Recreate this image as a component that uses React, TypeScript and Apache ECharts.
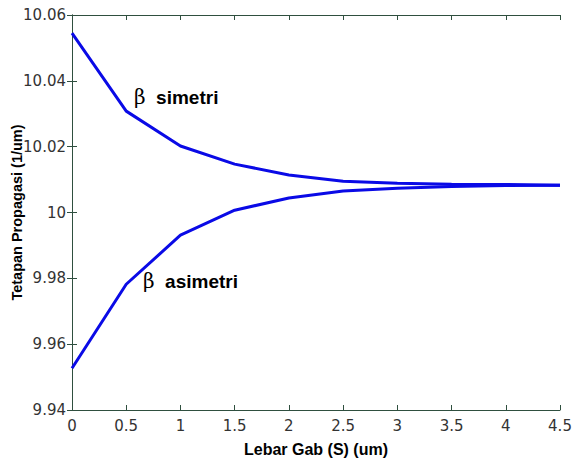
import React, { useEffect, useRef } from "react";
import * as echarts from "echarts";

const gapWidths = [0, 0.5, 1, 1.5, 2, 2.5, 3, 3.5, 4, 4.5];
const betaSimetri = [10.0545, 10.0308, 10.0202, 10.0147, 10.0114, 10.0095, 10.0089, 10.0086, 10.0085, 10.0083];
const betaAsimetri = [9.9527, 9.9782, 9.9931, 10.0007, 10.0044, 10.0065, 10.0074, 10.0079, 10.0082, 10.0083];
const xTicks = [0, 0.5, 1, 1.5, 2, 2.5, 3, 3.5, 4, 4.5];
const yTicks = [9.94, 9.96, 9.98, 10, 10.02, 10.04, 10.06];

const axisColor = "#2f4f3f";
const lineColor = "#0a0ae6";

export default function App() {
  const ref = useRef<HTMLDivElement>(null);
  useEffect(() => {
    if (!ref.current) return;
    const chart = echarts.init(ref.current, null, { renderer: "svg" });
    const labelFont = { fontFamily: "DejaVu Sans", fontSize: 15, color: "#333" };
    const baseX = {
      type: "value" as const,
      min: xTicks[0],
      max: xTicks[xTicks.length - 1],
      interval: 0.5,
      splitLine: { show: false },
      axisLine: { show: true, lineStyle: { color: axisColor, width: 1 } },
      axisTick: { show: true, inside: true, length: 5, lineStyle: { color: axisColor } },
    };
    const baseY = {
      type: "value" as const,
      min: yTicks[0],
      max: yTicks[yTicks.length - 1],
      interval: 0.02,
      splitLine: { show: false },
      axisLine: { show: true, lineStyle: { color: axisColor, width: 1 } },
      axisTick: { show: true, inside: true, length: 5, lineStyle: { color: axisColor } },
    };
    const rich = {
      b: { fontFamily: "DejaVu Serif", fontSize: 20, fill: "#000" },
      t: { fontFamily: "Liberation Sans", fontWeight: "bold", fontSize: 19, fill: "#000" },
    };
    chart.setOption({
      animation: false,
      backgroundColor: "#ffffff",
      grid: { left: 72, right: 14, top: 15, bottom: 49, outerBoundsMode: "none", containLabel: false },
      xAxis: [
        {
          ...baseX,
          position: "bottom",
          name: "Lebar Gab (S) (um)",
          nameLocation: "middle",
          nameGap: 31,
          nameMoveOverlap: false,
          nameTextStyle: { fontFamily: "Liberation Sans", fontWeight: "bold", fontSize: 16, color: "#000" },
          axisLabel: {
            ...labelFont,
            margin: 8,
            formatter: (v: number) => String(v),
          },
        },
        { ...baseX, position: "top", axisLabel: { show: false } },
      ],
      yAxis: [
        {
          ...baseY,
          position: "left",
          name: "Tetapan Propagasi (1/um)",
          nameLocation: "middle",
          nameGap: 48,
          nameMoveOverlap: false,
          nameTextStyle: {
            fontFamily: "Liberation Sans",
            fontWeight: "bold",
            fontSize: 14.5,
            color: "#000",
          },
          axisLabel: {
            ...labelFont,
            margin: 6,
            formatter: (v: number) => {
              const r = Math.round(v * 100) / 100;
              return r === 10 ? "10" : r.toFixed(2);
            },
          },
        },
        { ...baseY, position: "right", axisLabel: { show: false } },
      ],
      graphic: [
        {
          type: "text",
          left: 134,
          top: 87,
          style: { text: "{b|β}{t|  simetri}", rich },
        },
        {
          type: "text",
          left: 143,
          top: 271,
          style: { text: "{b|β}{t|  asimetri}", rich },
        },
      ],
      series: [
        {
          type: "line",
          name: "simetri",
          data: gapWidths.map((x, i) => [x, betaSimetri[i]]),
          showSymbol: false,
          lineStyle: { color: lineColor, width: 3 },
        },
        {
          type: "line",
          name: "asimetri",
          data: gapWidths.map((x, i) => [x, betaAsimetri[i]]),
          showSymbol: false,
          lineStyle: { color: lineColor, width: 3 },
        },
      ],
    });
    return () => chart.dispose();
  }, []);
  return (
    <div
      ref={ref}
      style={{ position: "fixed", left: 0, top: 0, width: 574, height: 459, background: "#fff" }}
    />
  );
}
